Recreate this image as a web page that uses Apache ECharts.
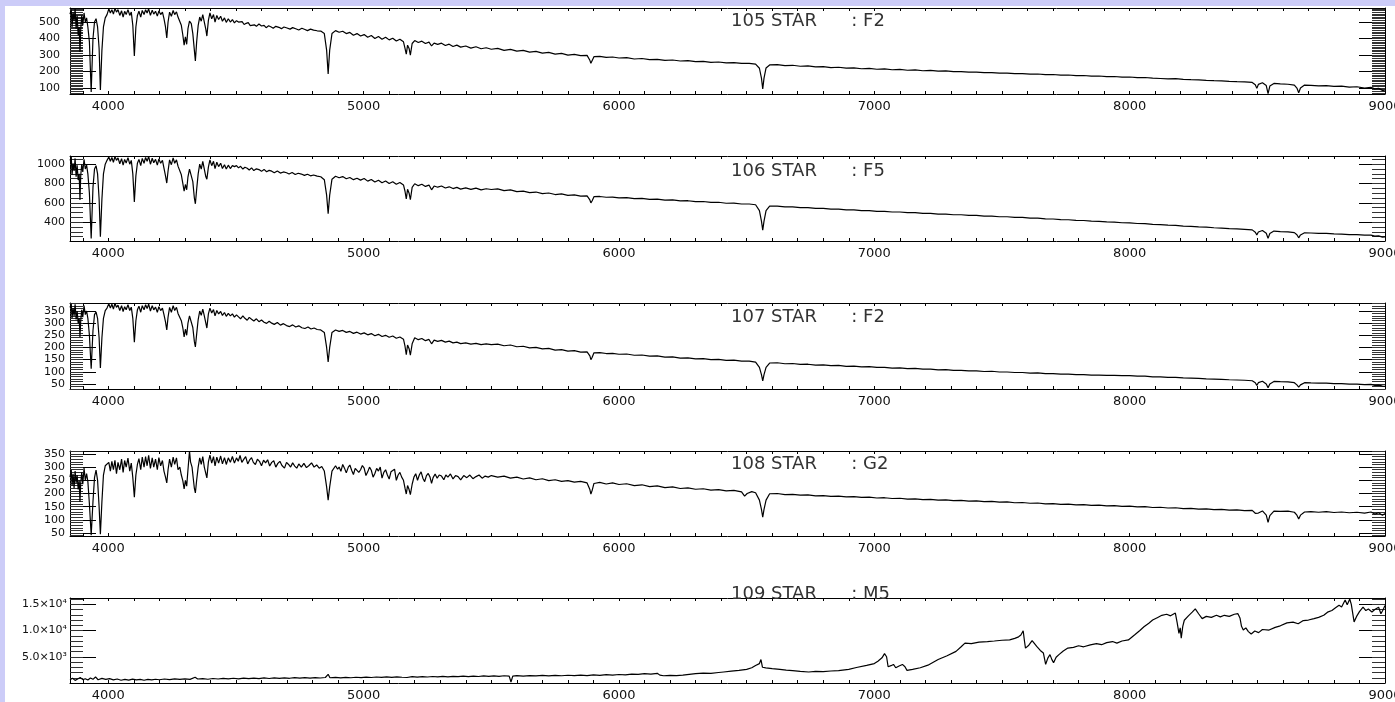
<!DOCTYPE html>
<html>
<head>
<meta charset="utf-8">
<script src="https://cdn.jsdelivr.net/npm/echarts@6/dist/echarts.min.js"></script>
<style>
  html, body { margin: 0; padding: 0; background: #fff; }
  #chart { width: 1395px; height: 702px; }
</style>
</head>
<body>
<div id="chart"></div>
<script>
// ---- Spectra: [wavelength (Å), flux] ----
const star105 = [[3850,548],[3855,575],[3858,470],[3862,560],[3866,505],[3870,580],[3874,460],[3878,540],[3882,420],[3886,470],[3889,318],[3892,455],[3896,540],[3900,480],[3905,555],[3910,500],[3915,525],[3920,470],[3926,380],[3933,76],[3940,400],[3946,500],[3952,520],[3958,470],[3964,340],[3969,88],[3975,330],[3981,470],[3988,525],[3995,545],[4002,580],[4008,555],[4014,575],[4020,548],[4026,583],[4032,560],[4038,575],[4045,540],[4052,568],[4058,530],[4064,565],[4070,545],[4077,575],[4084,540],[4090,560],[4096,480],[4102,294],[4108,470],[4114,540],[4120,565],[4127,530],[4133,570],[4140,545],[4146,575],[4152,555],[4158,580],[4165,540],[4172,572],[4178,548],[4185,565],[4192,536],[4198,568],[4205,545],[4212,560],[4218,520],[4224,470],[4229,403],[4234,500],[4240,560],[4247,535],[4254,570],[4260,545],[4267,562],[4273,530],[4280,520],[4286,480],[4292,420],[4297,360],[4302,410],[4307,365],[4312,460],[4318,505],[4325,490],[4331,430],[4337,330],[4341,264],[4346,380],[4352,480],[4358,530],[4364,505],[4370,545],[4376,500],[4382,455],[4386,415],[4392,510],[4398,555],[4405,520],[4412,545],[4418,500],[4425,540],[4432,515],[4440,535],[4447,505],[4455,525],[4462,498],[4470,520],[4478,500],[4486,515],[4494,495],[4502,508],[4510,500],[4517,489],[4524,503],[4532,485],[4540,492],[4548,496],[4556,478],[4563,490],[4572,483],[4580,474],[4590,488],[4600,476],[4610,480],[4618,466],[4628,477],[4638,470],[4646,462],[4656,474],[4668,468],[4678,460],[4688,470],[4700,464],[4712,457],[4722,466],[4734,459],[4746,452],[4758,462],[4770,455],[4780,448],[4792,457],[4804,451],[4818,447],[4832,445],[4846,430],[4855,330],[4861,185],[4867,330],[4876,430],[4890,448],[4904,438],[4918,444],[4932,430],[4946,437],[4960,420],[4974,430],[4988,415],[5002,424],[5016,408],[5030,418],[5044,400],[5058,412],[5072,396],[5086,408],[5100,392],[5114,402],[5128,385],[5142,396],[5156,380],[5162,340],[5167,305],[5172,360],[5178,340],[5183,300],[5190,370],[5200,388],[5214,376],[5228,384],[5242,370],[5256,378],[5266,355],[5276,372],[5290,365],[5305,372],[5320,358],[5335,366],[5350,352],[5365,360],[5380,348],[5400,355],[5420,342],[5440,350],[5460,338],[5480,344],[5500,335],[5525,340],[5550,328],[5575,334],[5600,324],[5625,328],[5650,318],[5675,322],[5700,312],[5725,316],[5750,306],[5775,310],[5800,300],[5825,304],[5850,296],[5875,298],[5886,268],[5890,250],[5895,262],[5902,290],[5925,292],[5950,286],[5975,288],[6000,282],[6030,284],[6060,276],[6090,279],[6120,272],[6150,274],[6180,268],[6210,270],[6240,264],[6270,266],[6300,260],[6330,262],[6360,256],[6390,258],[6420,252],[6450,254],[6480,249],[6510,250],[6535,245],[6550,220],[6558,160],[6563,94],[6568,160],[6576,222],[6590,240],[6620,242],[6650,236],[6680,238],[6710,232],[6740,234],[6770,228],[6800,230],[6830,224],[6860,226],[6890,221],[6920,222],[6950,217],[6980,219],[7010,214],[7040,216],[7070,211],[7100,213],[7130,208],[7160,210],[7190,205],[7220,207],[7250,202],[7280,204],[7310,199],[7340,200],[7370,196],[7400,197],[7430,193],[7460,194],[7490,190],[7520,191],[7550,187],[7580,188],[7610,184],[7640,185],[7670,181],[7700,182],[7730,178],[7760,179],[7790,175],[7820,176],[7850,172],[7880,173],[7910,169],[7940,170],[7970,166],[8000,167],[8030,163],[8060,164],[8090,160],[8120,158],[8150,156],[8180,157],[8210,153],[8240,151],[8270,150],[8300,147],[8330,145],[8360,144],[8390,141],[8420,139],[8450,138],[8480,134],[8492,120],[8498,98],[8504,122],[8520,132],[8535,115],[8542,66],[8549,112],[8565,128],[8590,125],[8620,123],[8645,118],[8655,100],[8662,72],[8669,100],[8685,118],[8710,116],[8740,113],[8770,115],[8800,110],[8830,112],[8860,106],[8890,108],[8920,100],[8945,104],[8960,95],[8975,98],[8990,86],[9000,82]];

const star106 = [[3850,1040],[3855,1075],[3858,890],[3862,1010],[3866,930],[3870,1060],[3874,870],[3878,990],[3882,836],[3886,900],[3889,630],[3892,880],[3896,1000],[3900,920],[3905,1050],[3910,950],[3915,990],[3920,900],[3926,700],[3933,231],[3940,760],[3946,950],[3952,985],[3958,900],[3964,640],[3969,250],[3975,640],[3981,900],[3988,1000],[3995,1040],[4002,1075],[4008,1030],[4014,1070],[4020,1020],[4026,1080],[4032,1040],[4038,1065],[4045,1005],[4052,1058],[4058,990],[4064,1050],[4070,1012],[4077,1068],[4084,1000],[4090,1040],[4096,900],[4102,610],[4108,880],[4114,1010],[4120,1050],[4127,985],[4133,1060],[4140,1010],[4146,1070],[4152,1030],[4158,1080],[4165,1000],[4172,1062],[4178,1015],[4185,1050],[4192,990],[4198,1055],[4205,1010],[4212,1040],[4218,960],[4224,880],[4229,805],[4234,930],[4240,1045],[4247,995],[4254,1065],[4260,1010],[4267,1045],[4273,980],[4280,960],[4286,890],[4292,800],[4297,720],[4302,790],[4307,735],[4312,870],[4318,950],[4325,930],[4331,820],[4337,650],[4341,590],[4346,740],[4352,900],[4358,1000],[4364,950],[4370,1030],[4376,950],[4382,870],[4386,845],[4392,970],[4398,1045],[4405,985],[4412,1030],[4418,955],[4425,1020],[4432,975],[4440,1010],[4447,955],[4455,995],[4462,950],[4470,990],[4478,955],[4486,985],[4494,975],[4502,985],[4510,962],[4518,978],[4527,950],[4535,968],[4544,958],[4552,940],[4561,962],[4570,934],[4580,952],[4590,944],[4600,926],[4610,946],[4620,922],[4630,936],[4640,928],[4650,912],[4662,930],[4674,908],[4686,920],[4698,912],[4708,898],[4720,914],[4732,893],[4744,906],[4756,898],[4768,884],[4780,896],[4792,880],[4804,888],[4818,876],[4832,870],[4846,840],[4855,680],[4861,487],[4867,680],[4876,845],[4890,875],[4904,860],[4918,872],[4932,850],[4946,862],[4960,840],[4974,855],[4988,835],[5002,852],[5016,825],[5030,842],[5044,815],[5058,834],[5072,808],[5086,826],[5100,800],[5114,818],[5128,792],[5142,810],[5156,785],[5162,720],[5167,640],[5172,740],[5178,700],[5183,632],[5190,760],[5200,798],[5214,778],[5228,792],[5242,770],[5256,784],[5266,735],[5276,774],[5290,762],[5305,774],[5320,754],[5335,766],[5350,748],[5365,760],[5380,742],[5400,755],[5420,740],[5440,752],[5460,735],[5480,746],[5500,738],[5525,744],[5550,726],[5575,734],[5600,716],[5625,722],[5650,705],[5675,712],[5700,696],[5725,702],[5750,686],[5775,692],[5800,678],[5825,683],[5850,670],[5875,672],[5886,630],[5890,600],[5895,622],[5902,664],[5925,666],[5950,658],[5975,660],[6000,652],[6030,654],[6060,643],[6090,646],[6120,636],[6150,638],[6180,628],[6210,630],[6240,620],[6270,622],[6300,612],[6330,614],[6360,604],[6390,606],[6420,596],[6450,597],[6480,588],[6510,588],[6535,580],[6550,520],[6558,410],[6563,318],[6568,410],[6576,520],[6590,566],[6620,566],[6650,558],[6680,559],[6710,550],[6740,551],[6770,543],[6800,543],[6830,535],[6860,536],[6890,528],[6920,528],[6950,520],[6980,520],[7010,512],[7040,512],[7070,505],[7100,505],[7130,498],[7160,498],[7190,491],[7220,491],[7250,484],[7280,484],[7310,477],[7340,477],[7370,470],[7400,470],[7430,463],[7460,463],[7490,456],[7520,456],[7550,449],[7580,449],[7610,442],[7640,441],[7670,434],[7700,433],[7730,426],[7760,425],[7790,418],[7820,417],[7850,410],[7880,409],[7910,402],[7940,400],[7970,394],[8000,392],[8030,386],[8060,384],[8090,377],[8120,375],[8150,369],[8180,366],[8210,360],[8240,357],[8270,351],[8300,348],[8330,342],[8360,339],[8390,333],[8420,330],[8450,325],[8480,320],[8492,295],[8498,268],[8504,298],[8520,314],[8535,285],[8542,232],[8549,282],[8565,308],[8590,303],[8620,300],[8645,292],[8655,270],[8662,238],[8669,268],[8685,290],[8710,288],[8740,284],[8770,283],[8800,278],[8830,276],[8860,272],[8890,270],[8920,265],[8945,266],[8960,255],[8975,258],[8990,245],[9000,248]];

const star107 = [[3850,365],[3855,380],[3858,320],[3862,362],[3866,330],[3870,378],[3874,315],[3878,350],[3882,300],[3886,320],[3889,243],[3892,310],[3896,355],[3900,325],[3905,372],[3910,335],[3915,350],[3920,320],[3926,250],[3933,112],[3940,270],[3946,335],[3952,346],[3958,320],[3964,240],[3969,116],[3975,240],[3981,320],[3988,352],[3995,362],[4002,380],[4008,362],[4014,378],[4020,358],[4026,382],[4032,365],[4038,374],[4045,352],[4052,372],[4058,348],[4064,368],[4070,355],[4077,376],[4084,352],[4090,366],[4096,320],[4102,222],[4108,310],[4114,355],[4120,370],[4127,345],[4133,372],[4140,355],[4146,376],[4152,360],[4158,378],[4165,350],[4172,372],[4178,355],[4185,366],[4192,345],[4198,368],[4205,352],[4212,362],[4218,335],[4224,305],[4229,272],[4234,325],[4240,365],[4247,345],[4254,372],[4260,352],[4267,365],[4273,340],[4280,335],[4286,310],[4292,280],[4297,243],[4302,275],[4307,250],[4312,300],[4318,330],[4325,322],[4331,282],[4337,225],[4341,202],[4346,255],[4352,315],[4358,350],[4364,332],[4370,358],[4376,330],[4382,300],[4386,280],[4392,338],[4398,362],[4405,342],[4412,356],[4418,330],[4425,352],[4432,338],[4440,348],[4447,332],[4455,344],[4462,328],[4470,340],[4478,330],[4486,338],[4494,325],[4502,334],[4510,326],[4518,318],[4527,330],[4535,320],[4544,312],[4552,324],[4561,316],[4570,309],[4580,318],[4590,306],[4600,313],[4610,304],[4620,299],[4630,308],[4640,300],[4650,295],[4662,303],[4674,292],[4686,298],[4698,290],[4710,286],[4722,293],[4734,284],[4746,289],[4758,281],[4770,278],[4782,284],[4794,276],[4806,280],[4818,274],[4832,272],[4846,262],[4855,200],[4861,140],[4867,200],[4876,262],[4890,272],[4904,266],[4918,270],[4932,262],[4946,266],[4960,258],[4974,263],[4988,255],[5002,260],[5016,252],[5030,257],[5044,248],[5058,254],[5072,245],[5086,250],[5100,242],[5114,247],[5128,238],[5142,243],[5156,234],[5162,205],[5167,170],[5172,210],[5178,195],[5183,168],[5190,215],[5200,240],[5214,232],[5228,237],[5242,228],[5256,233],[5266,215],[5276,230],[5290,225],[5305,229],[5320,222],[5335,226],[5350,219],[5365,222],[5380,216],[5400,219],[5420,214],[5440,217],[5460,212],[5480,215],[5500,212],[5525,214],[5550,207],[5575,210],[5600,203],[5625,205],[5650,198],[5675,200],[5700,194],[5725,196],[5750,189],[5775,191],[5800,185],[5825,187],[5850,181],[5875,182],[5886,165],[5890,150],[5895,160],[5902,178],[5925,179],[5950,175],[5975,176],[6000,172],[6030,173],[6060,168],[6090,169],[6120,164],[6150,165],[6180,160],[6210,161],[6240,156],[6270,157],[6300,153],[6330,154],[6360,150],[6390,151],[6420,147],[6450,148],[6480,144],[6510,144],[6535,140],[6550,118],[6558,88],[6563,62],[6568,88],[6576,118],[6590,136],[6620,137],[6650,133],[6680,134],[6710,130],[6740,131],[6770,127],[6800,128],[6830,125],[6860,126],[6890,122],[6920,123],[6950,120],[6980,121],[7010,118],[7040,118],[7070,115],[7100,116],[7130,113],[7160,114],[7190,111],[7220,111],[7250,108],[7280,109],[7310,106],[7340,106],[7370,104],[7400,104],[7430,101],[7460,102],[7490,99],[7520,99],[7550,97],[7580,97],[7610,94],[7640,95],[7670,92],[7700,92],[7730,90],[7760,90],[7790,88],[7820,88],[7850,86],[7880,86],[7910,85],[7940,85],[7970,84],[8000,84],[8030,82],[8060,82],[8090,79],[8120,79],[8150,77],[8180,77],[8210,75],[8240,74],[8270,73],[8300,71],[8330,70],[8360,69],[8390,67],[8420,66],[8450,65],[8480,63],[8492,55],[8498,44],[8504,55],[8520,61],[8535,50],[8542,34],[8549,50],[8565,60],[8590,59],[8620,58],[8645,55],[8655,46],[8662,37],[8669,46],[8685,55],[8710,54],[8740,53],[8770,53],[8800,51],[8830,51],[8860,49],[8890,49],[8920,47],[8945,48],[8960,44],[8975,45],[8990,41],[9000,40]];

const star108 = [[3850,262],[3855,290],[3858,230],[3862,275],[3866,220],[3870,285],[3874,240],[3878,270],[3882,215],[3886,250],[3889,168],[3892,240],[3896,280],[3900,235],[3905,296],[3910,250],[3915,275],[3920,245],[3926,160],[3933,42],[3940,170],[3946,260],[3952,289],[3958,250],[3964,150],[3969,46],[3975,170],[3981,270],[3988,305],[3995,298],[4002,318],[4008,285],[4014,322],[4020,290],[4026,326],[4032,275],[4038,318],[4045,290],[4052,330],[4058,280],[4064,325],[4070,300],[4077,334],[4084,285],[4090,315],[4096,260],[4102,186],[4108,270],[4114,310],[4120,332],[4127,290],[4133,338],[4140,300],[4146,340],[4152,305],[4158,345],[4165,295],[4172,335],[4178,300],[4185,330],[4192,290],[4198,336],[4205,305],[4212,325],[4218,285],[4224,262],[4229,240],[4234,290],[4240,330],[4247,300],[4254,338],[4260,310],[4267,335],[4273,290],[4280,300],[4286,270],[4292,248],[4297,217],[4302,250],[4307,228],[4312,290],[4318,361],[4322,320],[4328,300],[4333,255],[4337,220],[4341,202],[4346,250],[4352,300],[4358,335],[4364,310],[4370,340],[4376,300],[4382,275],[4386,259],[4392,320],[4398,345],[4405,315],[4412,340],[4418,305],[4425,338],[4432,315],[4440,342],[4447,312],[4455,336],[4462,310],[4470,335],[4478,318],[4486,340],[4494,315],[4502,335],[4509,322],[4516,344],[4523,318],[4531,330],[4538,340],[4546,312],[4553,326],[4561,336],[4568,318],[4576,310],[4584,330],[4592,322],[4600,305],[4608,326],[4616,316],[4624,328],[4632,304],[4640,318],[4648,324],[4656,300],[4664,314],[4672,322],[4680,306],[4690,296],[4698,318],[4706,310],[4714,300],[4722,316],[4730,304],[4738,296],[4746,312],[4756,300],[4766,314],[4776,298],[4786,306],[4796,316],[4806,300],[4816,308],[4826,296],[4836,302],[4846,285],[4855,225],[4861,175],[4867,225],[4876,285],[4890,305],[4898,292],[4904,300],[4911,284],[4918,310],[4925,296],[4932,278],[4940,300],[4946,308],[4953,288],[4960,272],[4967,295],[4974,302],[4981,280],[4988,290],[4995,306],[5002,296],[5009,268],[5016,282],[5023,300],[5030,288],[5037,262],[5044,276],[5051,295],[5058,285],[5065,300],[5072,258],[5079,280],[5086,290],[5093,270],[5100,255],[5107,282],[5114,276],[5121,292],[5128,250],[5135,270],[5142,280],[5149,262],[5156,250],[5162,220],[5167,198],[5172,230],[5178,215],[5183,196],[5190,235],[5197,262],[5204,275],[5211,250],[5218,270],[5225,282],[5232,258],[5239,245],[5246,268],[5253,276],[5260,262],[5266,238],[5272,260],[5280,274],[5288,258],[5296,270],[5305,266],[5314,252],[5322,270],[5330,262],[5340,274],[5350,255],[5360,268],[5370,264],[5380,252],[5392,268],[5404,260],[5416,270],[5428,256],[5440,264],[5452,270],[5464,258],[5476,266],[5488,262],[5500,268],[5525,262],[5550,266],[5575,258],[5600,262],[5625,255],[5650,259],[5675,252],[5700,256],[5725,249],[5750,252],[5775,246],[5800,249],[5825,243],[5850,246],[5875,240],[5886,215],[5890,198],[5895,212],[5902,238],[5925,242],[5950,236],[5975,240],[6000,234],[6030,237],[6060,230],[6090,233],[6120,226],[6150,229],[6180,222],[6210,225],[6240,219],[6270,221],[6300,216],[6330,218],[6360,213],[6390,215],[6420,210],[6450,212],[6480,206],[6492,190],[6497,186],[6502,200],[6520,207],[6535,203],[6550,175],[6558,140],[6563,110],[6568,140],[6576,175],[6590,199],[6620,200],[6650,196],[6680,197],[6710,194],[6740,195],[6770,191],[6800,192],[6830,189],[6860,190],[6890,187],[6920,188],[6950,185],[6980,186],[7010,183],[7040,184],[7070,181],[7100,182],[7130,179],[7160,180],[7190,177],[7220,178],[7250,175],[7280,176],[7310,173],[7340,174],[7370,171],[7400,172],[7430,169],[7460,170],[7490,167],[7520,168],[7550,165],[7580,166],[7610,163],[7640,164],[7670,161],[7700,162],[7730,159],[7760,160],[7790,157],[7820,158],[7850,155],[7880,156],[7910,153],[7940,154],[7970,151],[8000,152],[8030,149],[8060,150],[8090,147],[8120,148],[8150,145],[8180,146],[8210,143],[8240,144],[8270,141],[8300,142],[8330,139],[8360,140],[8390,137],[8420,138],[8450,135],[8480,136],[8492,125],[8498,118],[8504,126],[8520,134],[8535,118],[8542,91],[8549,116],[8565,133],[8590,132],[8620,133],[8645,129],[8655,118],[8662,103],[8669,118],[8685,130],[8710,131],[8740,129],[8770,131],[8800,128],[8830,130],[8860,127],[8890,129],[8920,126],[8945,130],[8960,122],[8975,127],[8990,118],[9000,124]];

const star109 = [[3850,620],[3860,900],[3870,500],[3880,780],[3890,1050],[3900,640],[3910,820],[3920,560],[3930,950],[3940,700],[3950,1150],[3960,620],[3975,880],[3990,700],[4005,820],[4020,600],[4035,760],[4050,520],[4065,700],[4080,560],[4095,740],[4110,580],[4125,680],[4140,520],[4155,700],[4170,600],[4185,720],[4200,620],[4220,760],[4240,640],[4260,790],[4280,680],[4300,800],[4320,700],[4340,1100],[4350,760],[4370,820],[4390,720],[4410,860],[4430,760],[4450,880],[4470,780],[4490,900],[4510,800],[4530,920],[4550,820],[4570,940],[4590,840],[4610,960],[4630,860],[4650,980],[4670,880],[4690,990],[4710,900],[4730,1010],[4750,920],[4770,1020],[4790,940],[4810,1040],[4830,950],[4850,1050],[4861,1650],[4868,1000],[4890,1060],[4910,980],[4930,1080],[4950,1000],[4970,1100],[4990,1020],[5010,1120],[5030,1050],[5050,1140],[5070,1060],[5090,1160],[5110,1080],[5130,1180],[5150,1100],[5170,1050],[5190,1200],[5210,1120],[5230,1220],[5250,1140],[5270,1240],[5290,1160],[5310,1260],[5330,1180],[5350,1280],[5370,1200],[5390,1300],[5410,1220],[5430,1320],[5450,1240],[5470,1340],[5490,1260],[5510,1360],[5530,1280],[5550,1380],[5570,1300],[5577,200],[5584,1300],[5600,1400],[5625,1320],[5650,1420],[5675,1340],[5700,1440],[5725,1360],[5750,1460],[5775,1380],[5800,1480],[5825,1400],[5850,1500],[5875,1420],[5900,1540],[5925,1460],[5950,1580],[5975,1500],[6000,1620],[6025,1560],[6050,1700],[6075,1640],[6100,1780],[6125,1700],[6150,1850],[6160,1500],[6175,1380],[6200,1450],[6225,1400],[6250,1500],[6275,1650],[6300,1780],[6330,1900],[6360,1850],[6390,2000],[6410,2100],[6440,2250],[6470,2400],[6500,2600],[6520,2900],[6535,3350],[6550,3700],[6556,4470],[6562,3000],[6575,2900],[6600,2750],[6630,2600],[6655,2470],[6680,2350],[6710,2200],[6743,2100],[6770,2200],[6800,2150],[6830,2290],[6860,2350],[6900,2600],[6930,2950],[6970,3350],[7000,3700],[7014,4160],[7030,4800],[7040,5590],[7048,5000],[7054,3100],[7065,3300],[7075,3540],[7084,2910],[7095,3200],[7110,3540],[7120,3100],[7128,2410],[7150,2600],[7180,2910],[7210,3400],[7250,4470],[7285,5200],[7320,6030],[7340,6900],[7355,7590],[7380,7500],[7410,7800],[7443,7900],[7470,8000],[7500,8150],[7530,8210],[7550,8500],[7565,8800],[7574,9150],[7583,9960],[7588,8000],[7592,6650],[7605,7200],[7618,8090],[7625,7800],[7636,6970],[7650,6200],[7662,5720],[7671,3540],[7680,4800],[7688,5410],[7695,4500],[7702,3850],[7712,4900],[7723,5410],[7740,6100],[7758,6650],[7780,6800],[7800,7100],[7820,6900],[7846,7280],[7870,7500],[7890,7300],[7910,7700],[7933,7900],[7950,7600],[7970,8000],[7995,8210],[8020,9200],[8040,10000],[8056,10710],[8075,11400],[8090,12000],[8110,12500],[8126,12900],[8145,13100],[8160,12800],[8179,13330],[8186,11500],[8193,9460],[8198,10500],[8202,8530],[8208,10800],[8214,11960],[8230,12800],[8245,13500],[8257,14140],[8270,13200],[8284,12270],[8300,12700],[8320,12500],[8340,12900],[8355,12600],[8371,12900],[8390,12700],[8410,13100],[8424,13210],[8432,12400],[8438,10800],[8445,10090],[8455,10500],[8465,9800],[8476,9340],[8490,9900],[8505,9600],[8520,10200],[8546,10090],[8570,10600],[8590,10900],[8616,11460],[8640,11600],[8660,11300],[8680,11900],[8700,12000],[8722,12270],[8740,12500],[8760,12900],[8775,13500],[8792,13830],[8805,14300],[8820,14800],[8830,14500],[8844,15830],[8852,14900],[8862,16010],[8868,15000],[8879,11650],[8890,12800],[8900,13600],[8914,14450],[8925,13800],[8935,14100],[8949,13520],[8960,14000],[8975,14450],[8984,13210],[8992,13900],[9000,14770]];

// ---- Panel titles ----
const starIds = ['105 STAR', '106 STAR', '107 STAR', '108 STAR', '109 STAR'];
const spectralTypes = ['F2', 'F5', 'F2', 'G2', 'M5'];

// ---- Tick values and labels ----
const waveLabelValues = [4000, 5000, 6000, 7000, 8000, 9000];
const fluxTickValues = [
  [100, 200, 300, 400, 500],
  [400, 600, 800, 1000],
  [50, 100, 150, 200, 250, 300, 350],
  [50, 100, 150, 200, 250, 300, 350],
  [5000, 10000, 15000]
];
const fluxTickLabels = [
  ['100', '200', '300', '400', '500'],
  ['400', '600', '800', '1000'],
  ['50', '100', '150', '200', '250', '300', '350'],
  ['50', '100', '150', '200', '250', '300', '350'],
  ['5.0×10³', '1.0×10⁴', '1.5×10⁴']
];

// ---- Layout ----
const spectra = [star105, star106, star107, star108, star109];
const panelLayout = [
  { top: 8,   height: 86, yMin: 64,  yMax: 585,   minorStep: 10,   minorFrom: 70,   labelMargin: 10, titleTop: 12 },
  { top: 156, height: 85, yMin: 205, yMax: 1085,  minorStep: 50,   minorFrom: 250,  labelMargin: 5,  titleTop: 162 },
  { top: 303, height: 86, yMin: 29,  yMax: 383,   minorStep: 10,   minorFrom: 30,   labelMargin: 5,  titleTop: 308 },
  { top: 451, height: 85, yMin: 39,  yMax: 361,   minorStep: 10,   minorFrom: 40,   labelMargin: 5,  titleTop: 455 },
  { top: 598, height: 85, yMin: 0,   yMax: 16200, minorStep: 1000, minorFrom: 1000, labelMargin: 3,  titleTop: 585 }
];
const WAVE_MIN = 3850, WAVE_MAX = 9000;
const PLOT_LEFT = 70, PLOT_WIDTH = 1315;

function steps(from, to, step) {
  const out = [];
  for (let v = from; v <= to + 1e-9; v += step) out.push(v);
  return out;
}
const waveTickValues = steps(3900, 9000, 100);

const ink = '#000';
const labelFont = 'DejaVu Sans, Verdana, sans-serif';

const grid = [], xAxis = [], yAxis = [], series = [], title = [];

panelLayout.forEach((p, i) => {
  grid.push({
    left: PLOT_LEFT, width: PLOT_WIDTH, top: p.top, height: p.height,
    containLabel: false, outerBoundsMode: 'none'
  });

  const xCommon = {
    type: 'value', gridIndex: i, min: WAVE_MIN, max: WAVE_MAX,
    splitLine: { show: false },
    axisLine: { show: true, onZero: false, lineStyle: { color: ink, width: 1 } },
    axisTick: { show: true, inside: true, length: 3, customValues: waveTickValues, lineStyle: { color: ink, width: 1 } }
  };
  xAxis.push(Object.assign({}, xCommon, {
    position: 'bottom',
    axisLabel: {
      show: true, customValues: waveLabelValues, margin: 6,
      alignMinLabel: 'center', alignMaxLabel: 'center',
      formatter: v => String(v),
      color: '#111', fontSize: 13, fontFamily: labelFont
    }
  }));
  xAxis.push(Object.assign({}, xCommon, { position: 'top', axisLabel: { show: false } }));

  const labelMap = {};
  fluxTickValues[i].forEach((v, k) => { labelMap[v] = fluxTickLabels[i][k]; });
  const minorValues = steps(p.minorFrom, p.yMax, p.minorStep);

  const yCommon = {
    type: 'value', gridIndex: i, min: p.yMin, max: p.yMax,
    splitLine: { show: false }
  };
  // left: major ticks with labels
  yAxis.push(Object.assign({}, yCommon, {
    position: 'left',
    axisLine: { show: true, onZero: false, lineStyle: { color: ink, width: 1 } },
    axisTick: { show: true, inside: true, length: 26, customValues: fluxTickValues[i], lineStyle: { color: ink, width: 1 } },
    axisLabel: {
      show: true, customValues: fluxTickValues[i], margin: p.labelMargin,
      formatter: v => labelMap[v] !== undefined ? labelMap[v] : '',
      color: '#111', fontSize: 11, fontFamily: labelFont
    }
  }));
  // left: minor ticks
  yAxis.push(Object.assign({}, yCommon, {
    position: 'left',
    axisLine: { show: false },
    axisTick: { show: true, inside: true, length: 13, customValues: minorValues, lineStyle: { color: '#333', width: 1 } },
    axisLabel: { show: false }
  }));
  // right: major ticks
  yAxis.push(Object.assign({}, yCommon, {
    position: 'right',
    axisLine: { show: true, onZero: false, lineStyle: { color: ink, width: 1 } },
    axisTick: { show: true, inside: true, length: 26, customValues: fluxTickValues[i], lineStyle: { color: ink, width: 1 } },
    axisLabel: { show: false }
  }));
  // right: minor ticks
  yAxis.push(Object.assign({}, yCommon, {
    position: 'right',
    axisLine: { show: false },
    axisTick: { show: true, inside: true, length: 13, customValues: minorValues, lineStyle: { color: '#333', width: 1 } },
    axisLabel: { show: false }
  }));

  series.push({
    type: 'line', name: starIds[i],
    xAxisIndex: 2 * i, yAxisIndex: 4 * i,
    data: spectra[i],
    showSymbol: false, symbol: 'none', clip: true, silent: true,
    lineStyle: { color: ink, width: 1.2 }
  });

  title.push({
    text: starIds[i] + '      : ' + spectralTypes[i],
    left: 731, top: p.titleTop, padding: 0,
    textStyle: { fontFamily: labelFont, fontSize: 18, fontWeight: 'normal', color: '#333' }
  });
});

const chart = echarts.init(document.getElementById('chart'), null, { renderer: 'canvas' });
chart.setOption({
  animation: false,
  backgroundColor: '#fff',
  graphic: [
    { type: 'rect', shape: { x: 0, y: 0, width: 1395, height: 6 }, style: { fill: '#ccccf8' }, silent: true },
    { type: 'rect', shape: { x: 0, y: 0, width: 5, height: 702 }, style: { fill: '#ccccf8' }, silent: true }
  ],
  title: title,
  grid: grid,
  xAxis: xAxis,
  yAxis: yAxis,
  series: series
});
</script>
</body>
</html>
